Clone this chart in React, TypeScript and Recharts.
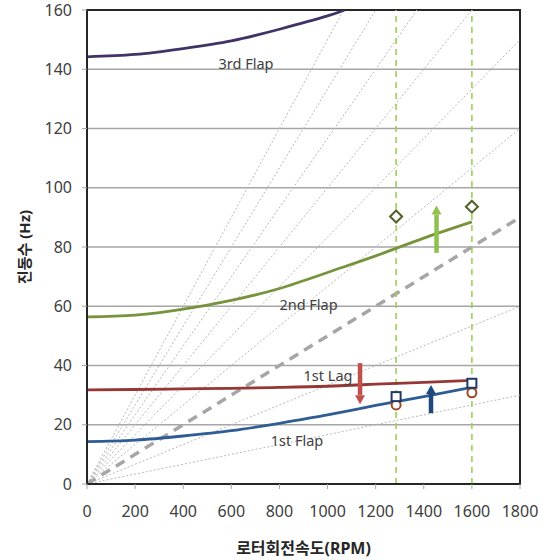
import {
  ComposedChart,
  Line,
  Scatter,
  XAxis,
  YAxis,
  CartesianGrid,
  ReferenceLine,
  ReferenceArea,
} from "recharts";

// axes
const xTicks = [0, 200, 400, 600, 800, 1000, 1200, 1400, 1600, 1800];
const yTicks = [0, 20, 40, 60, 80, 100, 120, 140, 160];

// natural frequency curves (Hz) vs rotor speed (RPM)
const rpm = [0, 200, 400, 600, 800, 1000, 1200, 1400, 1600];
const flap1 = [14.3, 14.8, 16.2, 18.0, 20.5, 23.3, 26.5, 29.5, 32.6];
const lag1 = [31.8, 31.9, 32.1, 32.3, 32.6, 33.0, 33.7, 34.3, 35.0];
const flap2 = [56.4, 57.0, 59.0, 62.0, 66.0, 71.4, 77.0, 83.0, 88.5];
const flap3Rpm = [0, 200, 400, 600, 800, 1000, 1070];
const flap3 = [144.2, 145.0, 147.0, 149.6, 153.5, 158.0, 160];

// per-rev lines, value at 1800 RPM (1P..9P); 3P drawn heavy dashed
const perRevAt1800 = [30, 60, 120, 150, 180, 210, 240, 270];
const threePAt1800 = 90;

// operating speeds and test points
const opRpm = [1285, 1600];
const diamondHz = [90.3, 93.6];
const squareHz = [29.5, 34.0];
const circleHz = [26.7, 30.8];

// shift arrows
const arrowRpm = [1453, 1135, 1430];
const arrowFrom = [78, 40.8, 23.9];
const arrowTo = [91, 30.0, 30.4];
const arrowColor = ["#92C04E", "#C0504D", "#1F497D"];

// curve labels
const labelText = ["3rd Flap", "2nd Flap", "1st Lag", "1st Flap"];
const labelRpm = [661, 921, 1002, 873];
const labelHz = [142.1, 60.8, 36.8, 14.9];

const pts = (xs: number[], ys: number[]) => xs.map((x, i) => ({ x, y: ys[i] }));

const font = "'Noto Sans', 'Noto Sans CJK KR', sans-serif";
const tickStyle = { fill: "#404040", fontSize: 16, fontFamily: font };

const Diamond = (p: any) => (
  <path
    d={`M${p.cx},${p.cy - 6} L${p.cx + 6},${p.cy} L${p.cx},${p.cy + 6} L${p.cx - 6},${p.cy} Z`}
    fill="#fff"
    stroke="#4F6228"
    strokeWidth={2}
  />
);
const Square = (p: any) => (
  <rect x={p.cx - 4.5} y={p.cy - 4.5} width={9} height={9} fill="#fff" stroke="#1F3864" strokeWidth={2} />
);
const Circle = (p: any) => (
  <circle cx={p.cx} cy={p.cy} r={4.5} fill="#fff" stroke="#9C4A1E" strokeWidth={2} />
);

const arrowHead = (color: string, up: boolean) => (p: any) => {
  const d = up ? -9 : 9;
  return (
    <path
      d={`M${p.cx - 5},${p.cy} L${p.cx + 5},${p.cy} L${p.cx},${p.cy + d} Z`}
      fill={color}
    />
  );
};

const LabelText = (p: any) => (
  <text
    x={p.cx}
    y={p.cy}
    textAnchor="middle"
    dominantBaseline="central"
    fontSize={14.5}
    fontFamily={font}
    fill="#404040"
  >
    {p.payload.text}
  </text>
);

export default function App() {
  const labels = labelText.map((text, i) => ({ x: labelRpm[i], y: labelHz[i], text }));

  return (
    <div style={{ width: 548, height: 560, background: "#fff" }}>
      <style>{`body{margin:0}`}</style>
      <ComposedChart width={548} height={560} margin={{ top: 10, right: 28, bottom: 0, left: 0 }}>
        <CartesianGrid vertical={false} stroke="#A6A6A6" strokeWidth={1.3} />
        <XAxis
          type="number"
          dataKey="x"
          domain={[0, 1800]}
          ticks={xTicks}
          allowDataOverflow
          height={76}
          tickSize={5}
          tickMargin={17}
          tick={tickStyle}
          axisLine={{ stroke: "#262626", strokeWidth: 2 }}
          tickLine={{ stroke: "#A6A6A6" }}
          label={(props: any) => {
            const vb = props.viewBox;
            return (
              <text
                x={vb.x + vb.width / 2}
                y={548}
                textAnchor="middle"
                dominantBaseline="central"
                fontSize={16}
                fontWeight="bold"
                fontFamily={font}
                fill="#262626"
              >
                로터회전속도(RPM)
              </text>
            );
          }}
        />
        <YAxis
          type="number"
          dataKey="y"
          domain={[0, 160]}
          ticks={yTicks}
          allowDataOverflow
          width={87}
          tickSize={5}
          tickMargin={10}
          tick={tickStyle}
          axisLine={{ stroke: "#262626", strokeWidth: 2 }}
          tickLine={{ stroke: "#A6A6A6" }}
          label={(props: any) => {
            const vb = props.viewBox;
            const cy = vb.y + vb.height / 2;
            return (
              <text
                x={24}
                y={cy}
                transform={`rotate(-90 24 ${cy})`}
                textAnchor="middle"
                dominantBaseline="central"
                fontSize={15}
                fontWeight="bold"
                fontFamily={font}
                fill="#262626"
              >
                진동수 (Hz)
              </text>
            );
          }}
        />

        {perRevAt1800.map((v, i) => (
          <Line
            key={`p${i}`}
            data={pts([0, 1800], [0, v])}
            dataKey="y"
            stroke="#B8B8B8"
            strokeWidth={1}
            strokeDasharray="2 2"
            dot={false}
            isAnimationActive={false}
          />
        ))}
        <Line
          data={pts([0, 1800], [0, threePAt1800])}
          dataKey="y"
          stroke="#A6A6A6"
          strokeWidth={3.5}
          strokeDasharray="10 7"
          dot={false}
          isAnimationActive={false}
        />

        {opRpm.map((x) => (
          <ReferenceLine key={x} x={x} stroke="#9BD05A" strokeWidth={1.6} strokeDasharray="6 5" />
        ))}

        <Line data={pts(flap3Rpm, flap3)} dataKey="y" type="natural" stroke="#403366" strokeWidth={2.8} dot={false} isAnimationActive={false} />
        <Line data={pts(rpm, flap2)} dataKey="y" type="natural" stroke="#77933C" strokeWidth={2.8} dot={false} isAnimationActive={false} />
        <Line data={pts(rpm, lag1)} dataKey="y" type="natural" stroke="#953735" strokeWidth={2.8} dot={false} isAnimationActive={false} />
        <Line data={pts(rpm, flap1)} dataKey="y" type="natural" stroke="#2E5C94" strokeWidth={2.8} dot={false} isAnimationActive={false} />

        {arrowRpm.map((x, i) => (
          <Line
            key={`as${i}`}
            data={pts([x, x], [arrowFrom[i], arrowTo[i]])}
            dataKey="y"
            stroke={arrowColor[i]}
            strokeWidth={4.5}
            dot={false}
            isAnimationActive={false}
          />
        ))}
        {arrowRpm.map((x, i) => (
          <Scatter
            key={`ah${i}`}
            data={pts([x], [arrowTo[i]])}
            dataKey="y"
            shape={arrowHead(arrowColor[i], arrowTo[i] > arrowFrom[i])}
            isAnimationActive={false}
          />
        ))}

        <Scatter data={pts(opRpm, diamondHz)} dataKey="y" shape={Diamond} isAnimationActive={false} />
        <Scatter data={pts(opRpm, circleHz)} dataKey="y" shape={Circle} isAnimationActive={false} />
        <Scatter data={pts(opRpm, squareHz)} dataKey="y" shape={Square} isAnimationActive={false} />

        <Scatter data={labels} dataKey="y" shape={LabelText} isAnimationActive={false} />

        <ReferenceArea x1={0} x2={1800} y1={0} y2={160} fill="none" fillOpacity={0} stroke="#262626" strokeWidth={2} />
      </ComposedChart>
    </div>
  );
}
